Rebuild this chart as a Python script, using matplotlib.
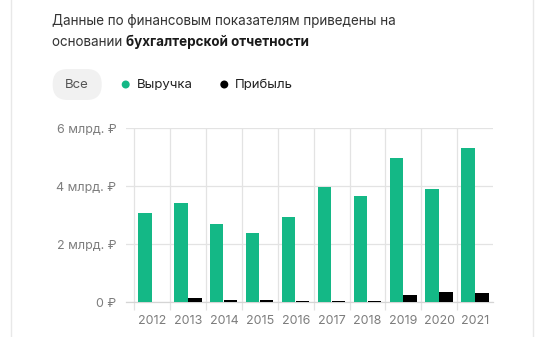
import numpy as np
import matplotlib.pyplot as plt
from matplotlib.patches import FancyBboxPatch, Circle
from matplotlib.lines import Line2D

plt.rcParams['font.family'] = ['Inter', 'DejaVu Sans']

years = ["2012", "2013", "2014", "2015", "2016", "2017", "2018", "2019", "2020", "2021"]
revenue = [3.09, 3.43, 2.69, 2.40, 2.95, 3.99, 3.67, 4.98, 3.92, 5.33]
profit = [0.01, 0.15, 0.07, 0.08, 0.05, 0.06, 0.04, 0.25, 0.355, 0.32]
ytick_vals = [0, 2, 4, 6]
ytick_labels = ["0 ₽", "2 млрд. ₽", "4 млрд. ₽", "6 млрд. ₽"]

green = "#14b886"
grid_col = "#e3e3e3"
tick_col = "#7d7d7d"

W, H = 536, 337
fig = plt.figure(figsize=(W / 100, H / 100), dpi=100)
fig.patch.set_facecolor("white")

def px(x, y):
    # pixel coords (from top-left) -> figure fraction
    return x / W, 1 - y / H

# card borders
for xb in (10.7, 532.7):
    fig.add_artist(Line2D([xb / W, xb / W], [0, 1], color="#e8e8e8", lw=1))

# heading, second line is half regular half bold
fig.text(*px(52, 21), "Данные по финансовым показателям приведены на",
         fontsize=9.7, color="#333333", va="center", ha="left")
t2 = fig.text(*px(52, 42), "основании ", fontsize=9.7, color="#333333",
              va="center", ha="left")
fig.canvas.draw()
bb = t2.get_window_extent(fig.canvas.get_renderer())
fig.text(bb.x1 / W, px(0, 42)[1], "бухгалтерской отчетности",
         fontsize=9.7, color="#1a1a1a", fontweight="bold", va="center", ha="left")

# legend chips
fig.add_artist(FancyBboxPatch((52.7, H - 100), 49, 31,
                              boxstyle="round,pad=0,rounding_size=15",
                              transform=None, fc="#f1f1f1", ec="none"))
fig.text(*px(77, 84.5), "Все", fontsize=9.5, color="#555555", va="center", ha="center")
for cx, col, label, tx in [(125.7, green, "Выручка", 136.5), (224.3, "black", "Прибыль", 235)]:
    fig.add_artist(Circle((cx, H - 84.5), 4, transform=None, fc=col, ec="none"))
    fig.text(*px(tx, 84.5), label, fontsize=9.5, color="#222222", va="center", ha="left")

# chart
ax = fig.add_axes([126 / W, (H - 302.3) / H, (493 - 126) / W, (302.3 - 128.3) / H])
x = np.arange(len(years))
bw = 0.37
ax.bar(x - 0.2, revenue, bw, color=green, zorder=3)
ax.bar(x + 0.19, profit, bw, color="black", zorder=3)

ax.set_xlim(-0.73, 9.5)
ax.set_ylim(0, 6)
ax.set_yticks(ytick_vals)
ax.set_yticklabels(ytick_labels)
ax.set_xticks(x)
ax.set_xticklabels(years)
ax.set_xticks(x - 0.5, minor=True)

ax.grid(axis="y", color=grid_col, lw=0.9, zorder=0)
ax.grid(axis="x", which="minor", color=grid_col, lw=0.9, zorder=0)
ax.tick_params(axis="y", length=0, pad=7, labelsize=9, labelcolor=tick_col)
ax.tick_params(axis="x", which="major", length=0, pad=9, labelsize=9, labelcolor=tick_col)
ax.tick_params(axis="x", which="minor", length=6, width=0.9, color=grid_col)
for s in ["top", "right", "left"]:
    ax.spines[s].set_visible(False)
ax.spines["bottom"].set_color("#d5d5d5")
ax.spines["bottom"].set_linewidth(0.9)
ax.set_axisbelow(True)

fig.savefig("out.png", dpi=100)
